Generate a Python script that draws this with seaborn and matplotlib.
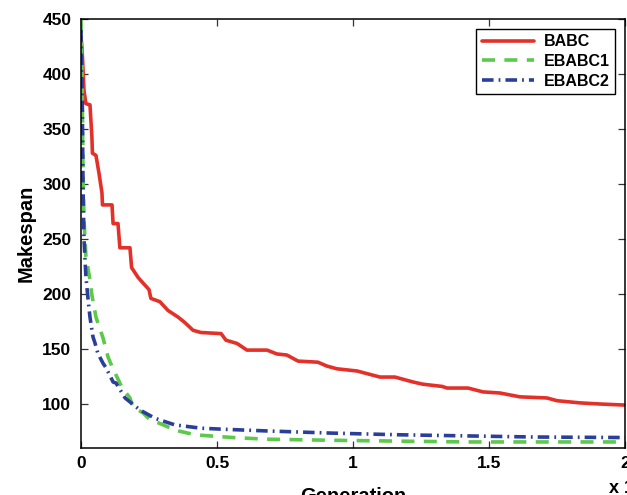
import numpy as np
import pandas as pd
import seaborn as sns
import matplotlib.pyplot as plt
from matplotlib.ticker import FuncFormatter, MultipleLocator

# values
gen_babc = [0, 40, 110, 180, 330, 400, 420, 550, 660, 770, 790, 1140, 1180, 1360, 1430,
            1800, 1860, 2100, 2280, 2500, 2570, 2900, 3200, 3570, 3820, 4120, 4410, 5150,
            5330, 5740, 6100, 6840, 7200, 7570, 7980, 8710, 9040, 9410, 10150, 10990,
            11540, 12210, 12570, 13270, 13460, 14230, 14780, 15400, 16140, 17130, 17500,
            18350, 19080, 20000]
babc = [434, 422, 385, 373, 372, 343, 328, 326, 310, 292, 281, 281, 264, 264, 242,
        242, 224, 215, 210, 204, 196, 193, 185, 179, 174, 167, 165, 164,
        158, 155, 149, 149, 145.5, 144.5, 139, 138, 134.5, 132, 130, 124.5,
        124.5, 120, 118, 116, 114.5, 114.5, 111, 110, 106.5, 105.5, 103,
        101, 100, 99]

gen_e1 = [0, 40, 70, 90, 110, 180, 330, 400, 550, 590, 810, 990, 1140, 1430, 1510,
          1800, 1910, 2280, 2540, 2830, 3500, 4190, 4740, 5590, 6840, 9260, 14190, 20000]
ebabc1 = [449, 400, 322, 290, 268, 234, 213, 199, 179, 176, 160, 143, 134, 119, 115,
          105.5, 97, 92, 85.5, 83, 76, 72, 71, 69.5, 68, 67, 65.5, 65.5]

gen_e2 = [0, 20, 50, 75, 110, 180, 260, 330, 440, 520, 620, 810, 920, 1180, 1290,
          1620, 2170, 2720, 3450, 4410, 5290, 6840, 9260, 11730, 14190, 16620, 20000]
ebabc2 = [440, 405, 370, 297, 250, 216, 195, 179, 161, 155, 146, 137, 133, 120, 119,
          105.5, 94.5, 87, 81, 78, 77, 75.5, 73.5, 72, 71, 70, 69.5]

names = ['BABC', 'EBABC1', 'EBABC2']
colors = {'BABC': '#e3312a', 'EBABC1': '#5cc94b', 'EBABC2': '#2b3f9a'}

df = pd.concat([
    pd.DataFrame({'Generation': gen_babc, 'Makespan': babc, 'alg': 'BABC'}),
    pd.DataFrame({'Generation': gen_e1, 'Makespan': ebabc1, 'alg': 'EBABC1'}),
    pd.DataFrame({'Generation': gen_e2, 'Makespan': ebabc2, 'alg': 'EBABC2'}),
], ignore_index=True)

sns.set_style('ticks')
plt.rcParams['font.family'] = ['Liberation Sans', 'DejaVu Sans']
plt.rcParams['font.weight'] = 'bold'
plt.rcParams['axes.labelweight'] = 'bold'
plt.rcParams['xtick.direction'] = 'in'
plt.rcParams['ytick.direction'] = 'in'
plt.rcParams['text.color'] = 'black'
plt.rcParams['axes.labelcolor'] = 'black'
plt.rcParams['xtick.labelcolor'] = 'black'
plt.rcParams['ytick.labelcolor'] = 'black'

fig = plt.figure(figsize=(6.27, 4.95), dpi=100)
ax = fig.add_axes([81 / 627, 1 - 448 / 495, 544 / 627, 429 / 495])

sns.lineplot(data=df, x='Generation', y='Makespan', hue='alg', style='alg',
             hue_order=names, style_order=names, palette=colors,
             dashes={'BABC': '', 'EBABC1': (3.6, 2.6), 'EBABC2': (3.2, 1.4, 0.5, 1.4)},
             estimator=None, sort=False, linewidth=2.6, ax=ax)

ax.set_xlim(0, 20000)
ax.set_ylim(60, 450)
ax.xaxis.set_major_locator(MultipleLocator(5000))
ax.yaxis.set_major_locator(MultipleLocator(50))
ax.yaxis.set_major_formatter(FuncFormatter(lambda v, p: '' if v < 100 else f'{v:g}'))
ax.xaxis.set_major_formatter(FuncFormatter(lambda v, p: f'{v / 1e4:g}'))
ax.tick_params(axis='both', which='major', labelsize=12.5, length=5, width=0.9,
               top=True, right=True, color='#333333')
ax.tick_params(axis='y', pad=7)
ax.tick_params(axis='x', pad=6)
for s in ax.spines.values():
    s.set_linewidth(1.1)
    s.set_color('black')

ax.set_xlabel('Generation', fontsize=14.5, labelpad=11)
ax.set_ylabel('Makespan', fontsize=14.5, labelpad=5)
ax.text(0.969, -0.108, 'x 10$^4$', transform=ax.transAxes, fontsize=13,
        fontweight='bold', ha='left', va='baseline')

handles, labels = ax.get_legend_handles_labels()
leg = ax.legend(handles, labels, loc='upper right', fontsize=11.5, frameon=True,
                fancybox=False, edgecolor='black', handlelength=3.3, labelspacing=0.3,
                borderpad=0.35, handletextpad=0.6, borderaxespad=0.6,
                prop={'weight': 'bold', 'size': 11.5})
leg.get_frame().set_linewidth(1.0)
leg.get_frame().set_alpha(1)

fig.savefig('out.png', dpi=100)
